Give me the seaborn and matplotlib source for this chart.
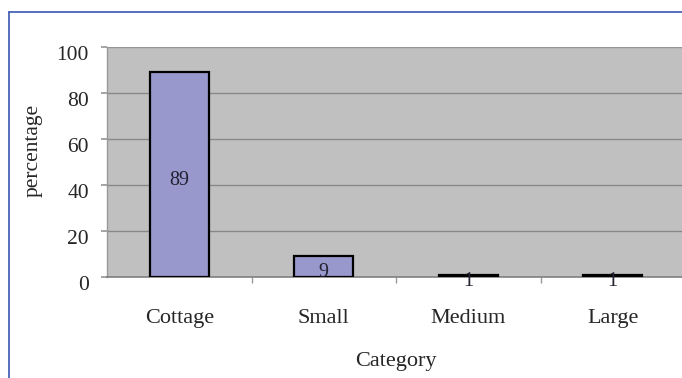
import matplotlib
matplotlib.use("Agg")
import matplotlib.pyplot as plt
import matplotlib.transforms as mtransforms
from matplotlib.lines import Line2D
from matplotlib.ticker import FixedLocator
import seaborn as sns
import pandas as pd

categories = ["Cottage", "Small", "Medium", "Large"]
values = [89, 9, 1, 1]
yticks = [0, 20, 40, 60, 80, 100]

sns.set_theme(style="white")
plt.rcParams["font.family"] = ["Liberation Serif", "DejaVu Serif"]

W, H = 682, 378
fig = plt.figure(figsize=(W / 100, H / 100), dpi=100)
fig.patch.set_facecolor("white")

# plot area in pixel terms; the box runs past the right edge of the figure
left, right, top, bottom = 107, 685, 47, 277
ax = fig.add_axes([left / W, (H - bottom) / H, (right - left) / W, (bottom - top) / H])
ax.set_facecolor("#c0c0c0")

df = pd.DataFrame({"Category": categories, "percentage": values})
sns.barplot(data=df, x="Category", y="percentage", ax=ax, color="#9898cc",
            saturation=1, width=0.41, edgecolor="black", linewidth=1.6, zorder=3)

ax.set_xlim(-0.5, 3.5)
ax.set_ylim(0, 100)
ax.set_yticks(yticks)
ax.yaxis.grid(True, color="#888888", linewidth=1.0, zorder=0)
ax.set_axisbelow(True)

# text in this chart sits a few pixels below its anchor
drop = mtransforms.ScaledTranslation(0, -6 / 100, fig.dpi_scale_trans)

# value labels inside the bars
for i, v in enumerate(values):
    ax.text(i, v / 2, f"{v}", ha="center", va="center", fontsize=14.5,
            color="#222233", zorder=4, transform=ax.transData + drop)

for s in ["top", "right"]:
    ax.spines[s].set_visible(False)
ax.spines["left"].set_color("#999999")
ax.spines["bottom"].set_color("#808080")
ax.spines["left"].set_linewidth(1.0)
ax.spines["bottom"].set_linewidth(1.2)
ax.axhline(100, color="#999999", linewidth=1.2, zorder=1)

ax.tick_params(axis="y", which="major", direction="out", length=4, color="#999999",
               labelsize=15.5, pad=9, left=True)
ax.tick_params(axis="x", which="major", length=0, labelsize=16, pad=23)
ax.xaxis.set_minor_locator(FixedLocator([0.5, 1.5, 2.5]))
ax.tick_params(axis="x", which="minor", direction="out", length=4, color="#999999",
               bottom=True)
for lbl in ax.get_yticklabels():
    lbl.set_transform(lbl.get_transform() + drop)

ax.set_ylabel("percentage", fontsize=15.5)
ax.set_xlabel("Category", fontsize=16)
ax.yaxis.set_label_coords(-0.112, 0.552)
ax.xaxis.set_label_coords(0.5, -0.325)

# blue frame around the chart
fig.add_artist(Line2D([9 / W, 1.0], [(H - 12) / H] * 2, color="#3858b0", linewidth=1.2,
                      transform=fig.transFigure))
fig.add_artist(Line2D([9 / W] * 2, [0, (H - 12) / H], color="#3858b0", linewidth=1.2,
                      transform=fig.transFigure))

fig.savefig("out.png", dpi=100)
